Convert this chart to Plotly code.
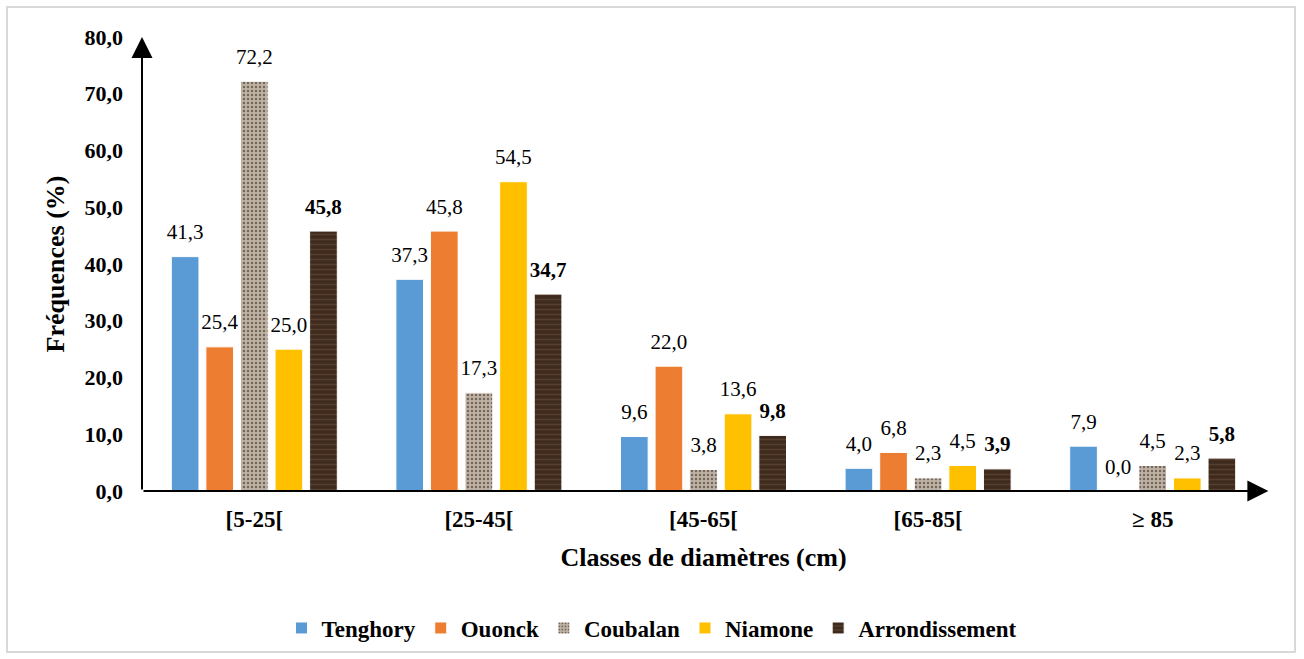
import plotly.graph_objects as go

categories = ["[5-25[", "[25-45[", "[45-65[", "[65-85[", "≥ 85"]
series_names = ["Tenghory", "Ouonck", "Coubalan", "Niamone", "Arrondissement"]
tenghory = [41.3, 37.3, 9.6, 4.0, 7.9]
ouonck = [25.4, 45.8, 22.0, 6.8, 0.0]
coubalan = [72.2, 17.3, 3.8, 2.3, 4.5]
niamone = [25.0, 54.5, 13.6, 4.5, 2.3]
arrondissement = [45.8, 34.7, 9.8, 3.9, 5.8]
y_ticks = [0, 10, 20, 30, 40, 50, 60, 70, 80]

values = [tenghory, ouonck, coubalan, niamone, arrondissement]

FONT = "'Liberation Serif', 'Times New Roman', Times, serif"
W, H = 1304, 659
ML, MR, MT, MB = 142, 39, 37, 168

styles = [
    dict(color="#5B9BD5"),
    dict(color="#ED7D31"),
    dict(color="#B3A697", pattern=dict(shape=".", bgcolor="#BFB3A5", fgcolor="#75685B", size=4, solidity=0.3, fillmode="replace")),
    dict(color="#FFC000"),
    dict(color="#3E2B1E", pattern=dict(shape="-", bgcolor="#3E2B1E", fgcolor="#563F2D", size=5, solidity=0.3, fillmode="replace")),
]

fig = go.Figure()
for name, vals, st in zip(series_names, values, styles):
    fig.add_trace(go.Bar(
        name=name, x=categories, y=vals,
        marker=dict(line=dict(color="white", width=1), **st),
    ))

for i, (name, vals) in enumerate(zip(series_names, values)):
    bold = name == "Arrondissement"
    fig.add_trace(go.Scatter(
        x=categories, y=vals, mode="markers+text",
        text=[f"{v:.1f}".replace(".", ",") for v in vals],
        textposition="top center",
        textfont=dict(family=FONT, size=21, color="#000", weight="bold" if bold else "normal"),
        marker=dict(size=18, opacity=0),
        showlegend=False, hoverinfo="skip", cliponaxis=False,
    ))

# axis arrows
for hx, hy in [(0, 80), (1.003, 0)]:
    fig.add_annotation(x=hx, y=hy, ax=0, ay=0, xref="x domain", yref="y", axref="x domain", ayref="y",
                       text="", showarrow=True, arrowhead=2, arrowsize=2.1, arrowwidth=2,
                       arrowcolor="#000", standoff=0)

# outer border
pw, ph = W - ML - MR, H - MT - MB
def px_x(p): return (p - ML) / pw
def px_y(p): return (H - MB - p) / ph
fig.add_shape(type="rect", xref="paper", yref="paper",
              x0=px_x(7), x1=px_x(1295), y0=px_y(652), y1=px_y(7),
              line=dict(color="#D9D9D9", width=2), fillcolor="rgba(0,0,0,0)", layer="below")

fig.update_layout(
    width=W, height=H,
    margin=dict(l=ML, r=MR, t=MT, b=MB, autoexpand=False),
    paper_bgcolor="white", plot_bgcolor="white",
    barmode="group", bargap=0.23, bargroupgap=0.2,
    scattermode="group", scattergap=0.23,
    separators=", ",
    font=dict(family=FONT, color="#000"),
    showlegend=True,
    legend=dict(orientation="h", xref="container", yref="container", x=0.5, y=0.047,
                xanchor="center", yanchor="middle",
                font=dict(family=FONT, size=23, weight="bold", color="#000"),
                itemwidth=30, tracegroupgap=0),
    xaxis=dict(type="category", showgrid=False, showline=False, zeroline=False, ticks="",
               tickfont=dict(family=FONT, size=23, weight="bold", color="#000"),
               ticklabelstandoff=12,
               title=dict(text="Classes de diamètres (cm)", standoff=16,
                          font=dict(family=FONT, size=26, weight="bold", color="#000")),
               automargin=False),
    yaxis=dict(range=[0, 80], tickvals=y_ticks, tickformat=".1f", showgrid=False, showline=False,
               zeroline=False, ticks="", ticklabelstandoff=18,
               tickfont=dict(family=FONT, size=22, weight="bold", color="#000"),
               title=dict(text="Fréquences (%)", standoff=12,
                          font=dict(family=FONT, size=26, weight="bold", color="#000")),
               automargin=False),
)

fig.write_html("out.html")
